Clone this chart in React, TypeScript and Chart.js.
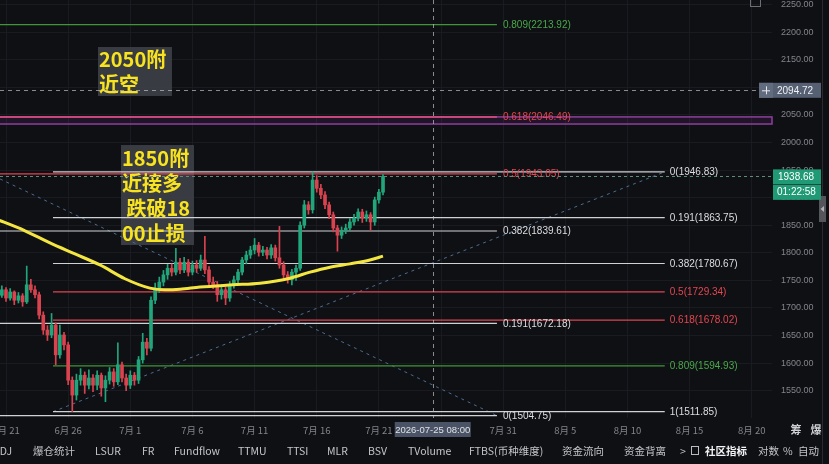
import { useEffect, useRef } from 'react';
import { Chart, registerables } from 'chart.js';

Chart.register(...registerables);

// ---------------- data ----------------
// time axis: days since 2026-06-21 00:00, 8h candles
const candleStartDay = -2 / 3;
const candleStepDays = 1 / 3;

const opens = [
  1730, 1723, 1733, 1718, 1729, 1714, 1722, 1711, 1742, 1733,
  1724, 1687, 1660, 1651, 1669, 1615, 1651, 1633, 1569, 1542,
  1569, 1578, 1560, 1573, 1560, 1578, 1555, 1569, 1584, 1566,
  1597, 1573, 1560, 1578, 1569, 1606, 1638, 1627, 1714, 1736,
  1747, 1760, 1772, 1765, 1783, 1769, 1783, 1765, 1778, 1772,
  1787, 1769, 1747, 1742, 1724, 1733, 1718, 1742, 1751, 1765,
  1787, 1796, 1805, 1814, 1801, 1805, 1796, 1809, 1791, 1778,
  1760, 1751, 1765, 1772, 1850, 1887, 1878, 1932, 1917, 1905,
  1887, 1869, 1845, 1832, 1841, 1845, 1856, 1863, 1874, 1863,
  1869, 1856, 1896, 1910,
];
const highs = [
  1738, 1740, 1737, 1735, 1731, 1728, 1726, 1776, 1752, 1740,
  1729, 1693, 1668, 1690, 1673, 1669, 1656, 1638, 1575, 1580,
  1590, 1584, 1588, 1579, 1586, 1582, 1577, 1592, 1590, 1637,
  1602, 1580, 1586, 1583, 1612, 1654, 1645, 1720, 1745, 1756,
  1768, 1779, 1780, 1808, 1790, 1792, 1788, 1785, 1786, 1796,
  1830, 1775, 1756, 1748, 1740, 1738, 1748, 1758, 1770, 1792,
  1803, 1812, 1826, 1819, 1812, 1810, 1815, 1814, 1848, 1784,
  1766, 1770, 1778, 1856, 1895, 1893, 1946.8, 1940, 1924, 1911,
  1892, 1874, 1850, 1847, 1852, 1862, 1870, 1880, 1879, 1876,
  1873, 1901, 1915, 1942,
];
const lows = [
  1716, 1719, 1712, 1714, 1706, 1709, 1703, 1708, 1728, 1718,
  1680, 1652, 1641, 1646, 1597, 1609, 1624, 1561, 1512, 1533,
  1560, 1545, 1553, 1548, 1552, 1540, 1530, 1562, 1558, 1561,
  1566, 1550, 1554, 1560, 1563, 1600, 1615, 1622, 1708, 1728,
  1740, 1752, 1758, 1760, 1762, 1764, 1758, 1760, 1765, 1768,
  1762, 1740, 1735, 1712, 1716, 1706, 1712, 1736, 1745, 1760,
  1780, 1790, 1798, 1794, 1795, 1789, 1790, 1785, 1772, 1754,
  1745, 1742, 1750, 1768, 1845, 1870, 1872, 1910, 1898, 1880,
  1862, 1838, 1803, 1826, 1835, 1840, 1850, 1858, 1855, 1857,
  1841, 1850, 1890, 1905,
];
const closes = [
  1723, 1733, 1718, 1729, 1714, 1722, 1711, 1742, 1733, 1724,
  1687, 1660, 1651, 1669, 1615, 1651, 1633, 1569, 1542, 1569,
  1578, 1560, 1573, 1560, 1578, 1555, 1569, 1584, 1566, 1597,
  1573, 1560, 1578, 1569, 1606, 1638, 1627, 1714, 1736, 1747,
  1760, 1772, 1765, 1783, 1769, 1783, 1765, 1778, 1772, 1787,
  1769, 1747, 1742, 1724, 1733, 1718, 1742, 1751, 1765, 1787,
  1796, 1805, 1814, 1801, 1805, 1796, 1809, 1791, 1778, 1760,
  1751, 1765, 1772, 1850, 1887, 1878, 1932, 1917, 1905, 1887,
  1869, 1845, 1832, 1841, 1845, 1856, 1863, 1874, 1863, 1869,
  1856, 1896, 1910, 1938.68,
];

const maDays = [-1.0, 1.53, 3.54, 5.55, 7.56, 9.57, 11.58, 12.79, 14.0, 15.61, 18.26, 20.43, 22.85, 24.46, 26.07, 27.67, 29.28, 30.33];
const maValues = [1863, 1840, 1818, 1798, 1778, 1753, 1736, 1733, 1734, 1738, 1742, 1745, 1754, 1765, 1774, 1780, 1787, 1794];

const xTickDays = [0, 5, 10, 15, 20, 25, 30, 35, 40, 45, 50, 55, 60];
const xTickLabels = ['6月 21', '6月 26', '7月 1', '7月 6', '7月 11', '7月 16', '7月 21', '7月 26', '7月 31', '8月 5', '8月 10', '8月 15', '8月 20'];
const yTickValues = [1550, 1600, 1650, 1700, 1750, 1800, 1850, 1900, 1950, 2000, 2050, 2100, 2150, 2200, 2250];

// Fibonacci set A (ends at 7/31) and set B (ends at 8/12)
const fibALevels = ['0', '0.191', '0.382', '0.5', '0.618', '0.809'];
const fibAPrices = [1504.75, 1672.18, 1839.61, 1943.05, 2046.49, 2213.92];
const fibADays = [-0.483, 39.5];
const fibBLevels = ['0', '0.191', '0.382', '0.5', '0.618', '0.809', '1'];
const fibBPrices = [1946.83, 1863.75, 1780.67, 1729.34, 1678.02, 1594.93, 1511.85];
const fibBDays = [3.78, 53.0];
const trendADays = [-0.483, 39.5];
const trendAPrices = [1934, 1504.75];
const trendBDays = [3.78, 53.0];
const trendBPrices = [1511.85, 1946.83];
const zonePrices = [2033.6, 2046.49];

const crossDay = 34.333; // 2026-07-25 08:00
const crossPrice = 2094.72;
const lastPrice = 1938.68;
const countdown = '01:22:58';

const note1 = ['2050附', '近空'];
const note2 = ['1850附', '近接多', ' 跌破18', '00止损'];

// ---------------- styles ----------------
const BG = '#0f1014';
const GRID = '#1a1b20';
const AXIS_TXT = '#82858b';
const NUM_FONT = '"Liberation Sans", Arial, sans-serif';
const CJK_FONT = '"Noto Sans CJK SC", "Noto Sans", sans-serif';
const UP = '#21a67c';
const DOWN = '#d9434f';
const X_MIN = -0.483;
const X_MAX = 61.63;
const Y_MIN = 1500.45;
const Y_MAX = 2258.52;

const lineColor = (l: string) => (l === '0.5' || l === '0.618' ? '#de4450' : l === '0.809' ? '#3f9636' : '#cfd1d4');
const textColor = (l: string) => (l === '0.5' || l === '0.618' ? '#e5464f' : l === '0.809' ? '#4aa84a' : '#dcdee2');

const overlayPlugin = {
  id: 'overlay',
  beforeDatasetsDraw(chart: any) {
    const { ctx, chartArea, scales } = chart;
    const x = scales.x, y = scales.y;
    ctx.save();
    // purple zone
    const zt = y.getPixelForValue(zonePrices[1]);
    const zb = y.getPixelForValue(zonePrices[0]);
    ctx.fillStyle = 'rgba(110,40,130,0.18)';
    ctx.fillRect(chartArea.left, zt, chartArea.right - chartArea.left, zb - zt);
    ctx.strokeStyle = '#8e3f9e';
    ctx.lineWidth = 1.5;
    ctx.strokeRect(chartArea.left - 2, zt, chartArea.right - chartArea.left + 2, zb - zt);
    // note boxes
    ctx.fillStyle = 'rgba(62,64,72,0.9)';
    ctx.fillRect(x.getPixelForValue(7.4), y.getPixelForValue(2173.3), 74, 49);
    ctx.fillRect(x.getPixelForValue(9.25), y.getPixelForValue(1995.5), 73, 100);
    ctx.restore();
  },
  afterDatasetsDraw(chart: any) {
    const { ctx, chartArea, scales } = chart;
    const x = scales.x, y = scales.y;
    ctx.save();
    ctx.font = `10px ${NUM_FONT}`;
    ctx.textBaseline = 'middle';
    ctx.textAlign = 'left';
    const ax = x.getPixelForValue(fibADays[1]) + 6;
    fibAPrices.forEach((p, i) => {
      ctx.fillStyle = textColor(fibALevels[i]);
      ctx.fillText(`${fibALevels[i]}(${p.toFixed(2)})`, ax, y.getPixelForValue(p) + 0.5);
    });
    const bx = x.getPixelForValue(fibBDays[1]) + 5;
    fibBPrices.forEach((p, i) => {
      ctx.fillStyle = textColor(fibBLevels[i]);
      ctx.fillText(`${fibBLevels[i]}(${p.toFixed(2)})`, bx, y.getPixelForValue(p) + 0.5);
    });

    // notes text
    ctx.font = `bold 20px ${CJK_FONT}`;
    ctx.fillStyle = '#f7e31e';
    const n1x = x.getPixelForValue(7.4) + 1, n1y = y.getPixelForValue(2173.3);
    note1.forEach((t, i) => ctx.fillText(t, n1x, n1y + 12 + i * 25));
    const n2x = x.getPixelForValue(9.25) + 1, n2y = y.getPixelForValue(1995.5);
    note2.forEach((t, i) => ctx.fillText(t, n2x, n2y + 13 + i * 25));

    // crosshair
    const cx = Math.round(x.getPixelForValue(crossDay)) + 0.5;
    const cy = Math.round(y.getPixelForValue(crossPrice)) + 0.5;
    ctx.strokeStyle = 'rgba(190,192,198,0.7)';
    ctx.lineWidth = 1;
    ctx.setLineDash([4, 4]);
    ctx.beginPath();
    ctx.moveTo(cx, chartArea.top);
    ctx.lineTo(cx, chartArea.bottom);
    ctx.moveTo(chartArea.left, cy);
    ctx.lineTo(chartArea.right - 13, cy);
    ctx.stroke();
    // last price line
    const py = Math.round(y.getPixelForValue(lastPrice)) + 0.5;
    ctx.strokeStyle = '#5f8d7b';
    ctx.setLineDash([3, 3]);
    ctx.beginPath();
    ctx.moveTo(chartArea.left, py);
    ctx.lineTo(chartArea.right, py);
    ctx.stroke();
    ctx.restore();
  },
  afterDraw(chart: any) {
    const { ctx, scales } = chart;
    const x = scales.x, y = scales.y;
    ctx.save();
    // right border and handle
    ctx.fillStyle = '#2a2b30';
    ctx.fillRect(822, 0, 1, 464);
    ctx.fillStyle = '#55565b';
    ctx.fillRect(819, 196, 7, 26);
    ctx.fillStyle = '#b0b2b6';
    ctx.beginPath();
    ctx.moveTo(820.5, 209);
    ctx.lineTo(824, 206);
    ctx.lineTo(824, 212);
    ctx.closePath();
    ctx.fill();
    // top-right icon
    ctx.strokeStyle = '#6b6e74';
    ctx.lineWidth = 1;
    ctx.strokeRect(750.5, -2.5, 10, 9);

    // crosshair price box
    const cy = y.getPixelForValue(crossPrice);
    ctx.fillStyle = '#566073';
    ctx.fillRect(759, cy - 7.5, 62, 15);
    ctx.fillStyle = '#626c7f';
    ctx.fillRect(759, cy - 7.5, 14, 15);
    ctx.strokeStyle = '#e6e8ec';
    ctx.beginPath();
    ctx.moveTo(762, cy + 0.5); ctx.lineTo(770, cy + 0.5);
    ctx.moveTo(766.5, cy - 4); ctx.lineTo(766.5, cy + 4);
    ctx.stroke();
    ctx.font = `10px ${NUM_FONT}`;
    ctx.textBaseline = 'middle';
    ctx.textAlign = 'left';
    ctx.fillStyle = '#eef0f3';
    ctx.fillText(crossPrice.toFixed(2), 777, cy + 0.5);

    // last price box
    const py = y.getPixelForValue(lastPrice);
    ctx.fillStyle = '#1f9a74';
    ctx.fillRect(773, py - 7, 48, 15);
    ctx.fillRect(773, py + 8.5, 48, 15);
    ctx.fillStyle = '#ffffff';
    ctx.fillText(lastPrice.toFixed(2), 778, py + 0.5);
    ctx.fillText(countdown, 777, py + 16);

    // crosshair date box
    const cx = x.getPixelForValue(crossDay);
    ctx.fillStyle = '#4b5466';
    ctx.fillRect(cx - 38, 422, 76, 15);
    ctx.fillStyle = '#dfe2e6';
    ctx.textAlign = 'center';
    ctx.font = `9.5px ${NUM_FONT}`;
    ctx.fillText('2026-07-25 08:00', cx, 430);

    // 筹 爆
    ctx.font = `bold 11px ${CJK_FONT}`;
    ctx.fillStyle = '#cfd1d5';
    ctx.fillText('筹', 796, 430);
    ctx.fillText('爆', 816, 430);

    // bottom toolbar
    const items: [string, number, boolean?][] = [
      ['KDJ', -7], ['爆仓统计', 33], ['LSUR', 95], ['FR', 142], ['Fundflow', 174], ['TTMU', 238],
      ['TTSI', 287], ['MLR', 327], ['BSV', 368], ['TVolume', 408], ['FTBS(币种维度)', 469],
      ['资金流向', 562], ['资金背离', 624], ['>', 680], ['社区指标', 705, true], ['对数', 758], ['%', 783], ['自动', 798],
    ];
    ctx.textAlign = 'left';
    items.forEach(([t, px, b]) => {
      ctx.font = `${b ? 'bold ' : ''}10.5px ${CJK_FONT}`;
      ctx.fillStyle = b ? '#f2f3f5' : '#c3c5c9';
      ctx.fillText(t, px, 451.5);
    });
    // edit icon
    ctx.strokeStyle = '#b9bbbf';
    ctx.strokeRect(691.5, 446.5, 7, 8);
    ctx.restore();
  },
};

export default function App() {
  const ref = useRef<HTMLCanvasElement | null>(null);
  useEffect(() => {
    if (!ref.current) return;
    const times = closes.map((_, i) => candleStartDay + i * candleStepDays);
    const colors = closes.map((c, i) => (c >= opens[i] ? UP : DOWN));
    const lineDs = (days: number[], prices: number[], color: string, extra: any = {}) => ({
      type: 'line',
      data: days.map((d, i) => ({ x: d, y: prices[i] })),
      borderColor: color,
      borderWidth: 1.2,
      pointRadius: 0,
      order: 3,
      ...extra,
    });
    const datasets: any[] = [];
    fibAPrices.forEach((p, i) => datasets.push(lineDs(fibADays, [p, p], lineColor(fibALevels[i]), fibALevels[i] === '0.618' ? { borderColor: '#e2507e', borderWidth: 1.5 } : {})));
    fibBPrices.forEach((p, i) => datasets.push(lineDs(fibBDays, [p, p], lineColor(fibBLevels[i]))));
    datasets.push(lineDs(trendADays, trendAPrices, '#4c6d93', { borderDash: [3, 4], borderWidth: 1, order: 4 }));
    datasets.push(lineDs(trendBDays, trendBPrices, '#4c6d93', { borderDash: [3, 4], borderWidth: 1, order: 4 }));
    datasets.push({
      type: 'bar',
      data: times.map((t, i) => ({ x: t, y: [lows[i], highs[i]] })),
      backgroundColor: colors,
      barThickness: 1,
      grouped: false,
      order: 2,
    });
    datasets.push({
      type: 'bar',
      data: times.map((t, i) => ({ x: t, y: [opens[i], closes[i]] })),
      backgroundColor: colors,
      barThickness: 3,
      minBarLength: 1,
      grouped: false,
      order: 1,
    });
    datasets.push({
      type: 'line',
      data: maDays.map((d, i) => ({ x: d, y: maValues[i] })),
      borderColor: '#f4e640',
      borderWidth: 3,
      pointRadius: 0,
      tension: 0.4,
      cubicInterpolationMode: 'monotone',
      order: 0,
    });

    const chart = new Chart(ref.current, {
      type: 'bar',
      data: { datasets },
      options: {
        animation: false,
        responsive: false,
        maintainAspectRatio: false,
        devicePixelRatio: 1,
        layout: { padding: 0 },
        plugins: { legend: { display: false }, tooltip: { enabled: false } },
        scales: {
          x: {
            type: 'linear',
            min: X_MIN,
            max: X_MAX,
            offset: false,
            grid: { color: GRID, drawTicks: false, offset: false },
            border: { display: false },
            afterBuildTicks: (s: any) => { s.ticks = xTickDays.map((v) => ({ value: v })); },
            afterFit: (s: any) => { s.height = 46; s.paddingLeft = 0; s.paddingRight = 0; },
            ticks: {
              autoSkip: false,
              maxRotation: 0,
              padding: 7,
              color: AXIS_TXT,
              font: { size: 9.5, family: CJK_FONT },
              callback: (v: any) => xTickLabels[xTickDays.indexOf(Number(v))] ?? '',
            },
          },
          y: {
            type: 'linear',
            position: 'right',
            min: Y_MIN,
            max: Y_MAX,
            grid: { color: GRID, drawTicks: false },
            border: { display: false },
            afterBuildTicks: (s: any) => { s.ticks = yTickValues.map((v) => ({ value: v })); },
            afterFit: (s: any) => { s.width = 57; s.paddingTop = 0; s.paddingBottom = 0; },
            ticks: {
              padding: 9,
              color: AXIS_TXT,
              font: { size: 9, family: NUM_FONT },
              callback: (v: any) => Number(v).toFixed(2),
            },
          },
        },
      },
      plugins: [overlayPlugin],
    } as any);
    return () => chart.destroy();
  }, []);
  return (
    <div style={{ position: 'fixed', left: 0, top: 0, width: 829, height: 464, background: BG }}>
      <canvas ref={ref} width={829} height={464} style={{ display: 'block', width: 829, height: 464 }} />
    </div>
  );
}
